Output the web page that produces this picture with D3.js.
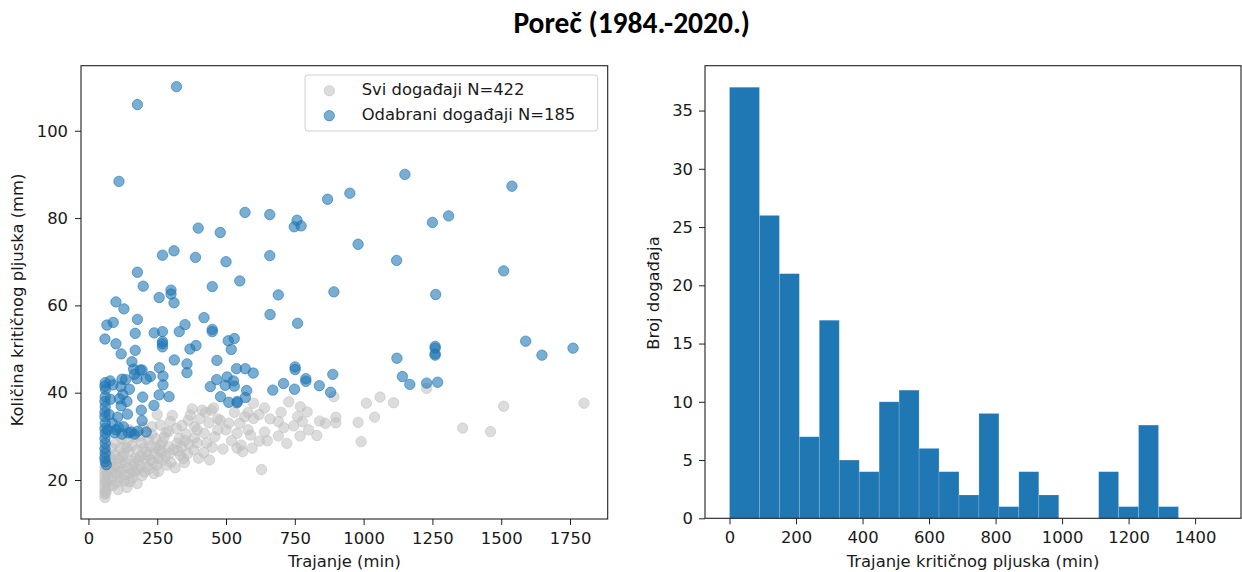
<!DOCTYPE html>
<html><head><meta charset="utf-8">
<script src="https://cdn.jsdelivr.net/npm/d3@7"></script>
<style>
body{margin:0;background:#fff;}
svg{display:block;}
text{font-family:"DejaVu Sans",sans-serif;fill:#1a1a1a;}
</style></head>
<body><svg id="c" width="1242" height="572"></svg>
<script>
// ---------- DATA ----------
const title = "Poreč (1984.-2020.)";
const scatterXLabel = "Trajanje (min)";
const scatterYLabel = "Količina kritičnog pljuska (mm)";
const histXLabel = "Trajanje kritičnog pljuska (min)";
const histYLabel = "Broj događaja";
const legendLabels = ["Svi događaji N=422", "Odabrani događaji N=185"];
const scatterXTicks = [0,250,500,750,1000,1250,1500,1750];
const scatterYTicks = [20,40,60,80,100];
const histXTicks = [0,200,400,600,800,1000,1200,1400];
const histYTicks = [0,5,10,15,20,25,30,35];

// all events [duration (min), amount (mm)]
const allEvents = [
[892,39.1],[899,34.4],[899,33.1],[1010,37.6],[1060,39.0],[1109,37.7],[980,33.2],[1040,34.4],[991,28.8],[1229,41.0],
[1360,31.9],[1461,31.1],[1509,36.9],[1801,37.6],
[629,22.4],[728,37.9],[770,36.8],[795,35.6],[746,32.4],[777,33.4],[769,30.1],[690,33.4],[690,30.1],[721,28.4],
[830,30.2],[861,33.0],[600,37.6],[568,34.5],[600,34.1],[540,30.7],[540,27.3],[589,30.3],[595,27.3],[621,28.9],
[500,31.5],[479,33.7],[438,33.1],[447,36.0],[413,36.0],[377,36.3],[370,34.9],[363,33.7],[386,32.2],[421,30.7],
[459,29.9],[489,27.1],[419,26.3],[440,24.6],[349,24.0],[382,26.9],[322,28.4],[334,25.7],[291,31.1],[297,33.4],
[261,32.6],[231,32.2],[291,27.6],[261,28.0],[255,25.0],[218,29.2],[200,27.3],[182,24.6],[213,23.0],[249,23.4],
[285,23.4],[152,21.5],[140,18.3],[115,20.4],[103,23.0],[122,25.3],[146,26.5],[176,26.9],[115,27.3],[85,27.3],
[85,24.6],[85,22.0],[85,20.1],[164,29.9],
[60,16.0],[60,16.8],[60,17.5],[60,18.3],[60,19.2],[60,20.0],[60,21.0],[60,22.0],[60,23.0],[60,25.5],
[62,26.8],[64,17.2],[66,19.5],[68,21.5],
[75,18.5],[78,23.5],[90,18.8],[95,25.8],[100,21.5],[105,19.5],[110,25.0],[125,22.5],[130,19.8],[135,24.0],
[145,22.8],[155,24.5],[160,20.5],[165,23.5],[170,21.8],[180,22.5],[190,25.5],[195,21.0],[205,24.8],[210,26.5],
[220,22.5],[225,27.8],[235,24.0],[240,26.0],[245,29.5],[255,22.0],[265,26.5],[270,24.5],[280,25.5],[300,24.0],
[310,27.0],[315,22.8],[330,29.5],[340,27.5],[355,30.5],[360,26.0],[395,28.5],[400,25.0],[430,28.5],[450,27.5],
[470,31.5],[520,29.0],[555,28.0],[560,26.5],[580,31.5],[640,31.0],[650,29.0],[660,34.0],[700,35.5],[710,32.0],
[760,34.5],[800,31.5],[840,33.5],[120,29.5],[140,28.8],[150,31.5],[185,30.0],[200,32.0],[230,30.5],[250,35.0],
[275,29.8],[305,34.8],[320,31.8],[340,32.5],[350,29.0],[395,31.5],[405,34.0],[425,35.5],[455,36.5],[470,34.0],
[510,33.0],[530,35.5],[550,33.0],[580,35.5],[620,35.0],[640,36.5],
[72,20.8],[80,25.2],[92,22.9],[98,28.4],[108,17.8],[112,21.9],[118,23.9],[128,26.2],[133,21.2],[138,27.4],
[150,19.6],[158,27.9],[162,22.1],[172,25.0],[177,19.2],[187,23.3],[192,28.6],[203,21.8],[215,25.6],[228,24.6],
[238,21.5],[244,27.3],[258,26.9],[268,28.6],[282,30.9],[295,26.1],[325,26.7],[345,24.9],[365,28.2],[385,29.6]
];

// selected events [duration (min), amount (mm)]
const selectedEvents = [
[320,110.1],[178,106.0],[111,88.4],[869,84.3],[569,81.3],[659,80.8],[758,79.5],[748,78.0],[773,78.2],[399,77.7],
[479,76.7],[269,71.5],[311,72.5],[389,71.0],[500,70.0],[659,71.4],[178,67.6],[199,64.4],[550,65.6],[450,64.3],
[300,63.5],[1150,90.0],[1539,87.3],[950,85.7],[1250,79.0],[1309,80.5],[980,74.0],[1120,70.3],[1509,67.9],
[892,63.1],[1262,62.5],[1589,51.8],[1648,48.6],[1761,50.2],[1260,50.6],[1260,50.2],[1260,48.6],[1260,48.9],
[1121,47.9],[1141,43.7],[1168,41.9],[1229,42.2],[1269,42.4],
[690,62.4],[257,61.8],[300,62.6],[311,60.6],[100,60.8],[129,59.2],[660,57.9],[760,55.9],[178,56.8],[420,57.2],
[67,55.5],[90,56.1],[351,55.6],[330,54.0],[450,54.5],[450,54.0],[60,52.3],[170,53.6],[239,53.7],[269,54.0],
[269,51.7],[269,50.5],[269,51.2],[100,51.2],[119,48.9],[170,49.7],[369,50.0],[391,50.8],[508,51.9],[530,52.4],
[519,49.9],[467,47.4],[312,47.5],[158,47.1],[188,45.2],[164,45.4],[358,46.6],[358,44.6],[258,45.7],[61,42.3],
[79,42.7],[122,43.1],[167,44.2],[195,45.2],[225,43.7],[176,43.2],[210,43.1],[271,43.8],[271,41.8],[149,40.8],
[89,41.8],[118,41.4],[62,40.8],[61,39.1],[61,36.8],[119,37.0],[197,39.0],[238,37.1],[293,39.1],[257,39.5],
[192,36.0],[195,33.6],[142,35.1],[106,34.4],[87,33.0],[61,33.0],[61,30.7],[61,28.4],[61,26.1],[61,24.2],
[122,30.5],[146,30.8],[167,30.5],[127,32.2],
[504,43.6],[538,45.5],[570,45.5],[599,44.5],[466,43.0],[527,42.7],[530,41.5],[443,41.4],[497,41.7],[575,40.5],
[480,39.1],[510,37.8],[570,38.9],[540,37.7],[541,38.0],
[670,40.6],[709,42.1],[749,40.8],[751,45.3],[751,45.9],[790,43.2],[790,42.6],[839,41.6],[880,40.1],[888,44.2],
[60,25.0],[60,27.2],[60,29.5],[60,31.8],[60,34.5],[60,35.5],[60,38.0],[60,41.5],[65,23.5],[70,31.5],
[75,35.0],[80,38.5],[95,30.8],[100,31.5],[110,32.0],[113,38.6],[125,39.6],[135,43.0],[140,38.0],[155,31.0],
[180,31.2],[210,31.0]
];

// histogram bins (edges in minutes) and counts
const binEdges = [0,90,150,210,270,330,390,450,510,570,630,690,750,810,870,930,990,1050,1110,1170,1230,1290,1350];
const binCounts = [37,26,21,7,17,5,4,10,11,6,4,2,9,1,4,2,0,0,4,1,8,1];

// ---------- DRAW ----------
const svg = d3.select("#c");
const FS = 16.4;
const blue = "#1f77b4", grey = "#c0c0c0";

// title
const t = svg.append("text").attr("x",631.7).attr("y",33).attr("text-anchor","middle")
  .style("font-family","Carlito, Lato, 'Open Sans', sans-serif").style("font-weight","bold")
  .style("font-size","24px").style("fill","#000").text(title);
const tw = t.node().getComputedTextLength();
t.style("font-size", (24*236.7/tw)+"px");

// ----- scatter -----
const L = {x0:81, x1:607.7, y0:65.7, y1:519};
const sx = d3.scaleLinear().domain([-27,1887]).range([L.x0,L.x1]);
const sy = d3.scaleLinear().domain([11.07,114.9]).range([L.y1,L.y0]);

function styleAxis(g){
  g.select(".domain").remove();
  g.selectAll(".tick line").attr("stroke","#222").attr("stroke-width",1);
  g.selectAll(".tick text").style("font-size",FS+"px").style("font-family","DejaVu Sans").attr("fill","#1a1a1a");
}
const gsx = svg.append("g").attr("transform",`translate(0,${L.y1})`)
  .call(d3.axisBottom(sx).tickValues(scatterXTicks).tickSize(6).tickPadding(7).tickFormat(d3.format("d")));
styleAxis(gsx);
const gsy = svg.append("g").attr("transform",`translate(${L.x0},0)`)
  .call(d3.axisLeft(sy).tickValues(scatterYTicks).tickSize(6).tickPadding(7).tickFormat(d3.format("d")));
styleAxis(gsy);

function dots(g, data, color, op){
  g.selectAll("circle.d").data(data).join("circle").attr("class","d")
    .attr("cx",d=>sx(d[0])).attr("cy",d=>sy(d[1])).attr("r",5.2)
    .attr("fill",color).attr("fill-opacity",op)
    .attr("stroke",color).attr("stroke-opacity",op).attr("stroke-width",1);
}
svg.append("clipPath").attr("id","cs").append("rect")
  .attr("x",L.x0).attr("y",L.y0).attr("width",L.x1-L.x0).attr("height",L.y1-L.y0);
dots(svg.append("g").attr("clip-path","url(#cs)"), allEvents, grey, 0.55);
dots(svg.append("g").attr("clip-path","url(#cs)"), selectedEvents, blue, 0.6);

svg.append("rect").attr("x",L.x0).attr("y",L.y0).attr("width",L.x1-L.x0).attr("height",L.y1-L.y0)
  .attr("fill","none").attr("stroke","#222").attr("stroke-width",1.1);

// legend
const lg = svg.append("g");
lg.append("rect").attr("x",305).attr("y",75).attr("width",292.7).attr("height",56).attr("rx",3)
  .attr("fill","#fff").attr("fill-opacity",0.8).attr("stroke","#d0d0d0").attr("stroke-width",1);
[[grey,0.55],[blue,0.6]].forEach((c,i)=>{
  lg.append("circle").attr("cx",329.3).attr("cy",90.7+25*i).attr("r",5.2)
    .attr("fill",c[0]).attr("fill-opacity",c[1]).attr("stroke",c[0]).attr("stroke-opacity",c[1]);
  lg.append("text").attr("x",361.7).attr("y",95+25*i).style("font-size",FS+"px").text(legendLabels[i]);
});

svg.append("text").attr("x",(L.x0+L.x1)/2).attr("y",567).attr("text-anchor","middle")
  .style("font-size",FS+"px").text(scatterXLabel);
svg.append("text").attr("transform","translate(23.3,300) rotate(-90)").attr("text-anchor","middle")
  .style("font-size",FS+"px").text(scatterYLabel);

// ----- histogram -----
const R = {x0:705, x1:1241, y0:65.7, y1:518.3};
const hx = d3.scaleLinear().domain([-73.7,1538]).range([R.x0,R.x1]);
const hy = d3.scaleLinear().domain([0,38.85]).range([R.y1,R.y0]);
const bins = binCounts.map((c,i)=>({x0:binEdges[i],x1:binEdges[i+1],c}));

svg.append("g").selectAll("rect").data(bins.filter(b=>b.c>0)).join("rect")
  .attr("x",d=>hx(d.x0)).attr("width",d=>hx(d.x1)-hx(d.x0))
  .attr("y",d=>hy(d.c)).attr("height",d=>hy(0)-hy(d.c))
  .attr("fill",blue).attr("stroke","#ffffff").attr("stroke-opacity",0.2).attr("stroke-width",0.8);

const ghx = svg.append("g").attr("transform",`translate(0,${R.y1})`)
  .call(d3.axisBottom(hx).tickValues(histXTicks).tickSize(6).tickPadding(7).tickFormat(d3.format("d")));
styleAxis(ghx);
const ghy = svg.append("g").attr("transform",`translate(${R.x0},0)`)
  .call(d3.axisLeft(hy).tickValues(histYTicks).tickSize(6).tickPadding(6).tickFormat(d3.format("d")));
styleAxis(ghy);

svg.append("rect").attr("x",R.x0).attr("y",R.y0).attr("width",R.x1-R.x0).attr("height",R.y1-R.y0)
  .attr("fill","none").attr("stroke","#222").attr("stroke-width",1.1);

svg.append("text").attr("x",(R.x0+R.x1)/2).attr("y",567).attr("text-anchor","middle")
  .style("font-size",FS+"px").text(histXLabel);
svg.append("text").attr("transform","translate(659.3,293) rotate(-90)").attr("text-anchor","middle")
  .style("font-size",FS+"px").text(histYLabel);
</script></body></html>
